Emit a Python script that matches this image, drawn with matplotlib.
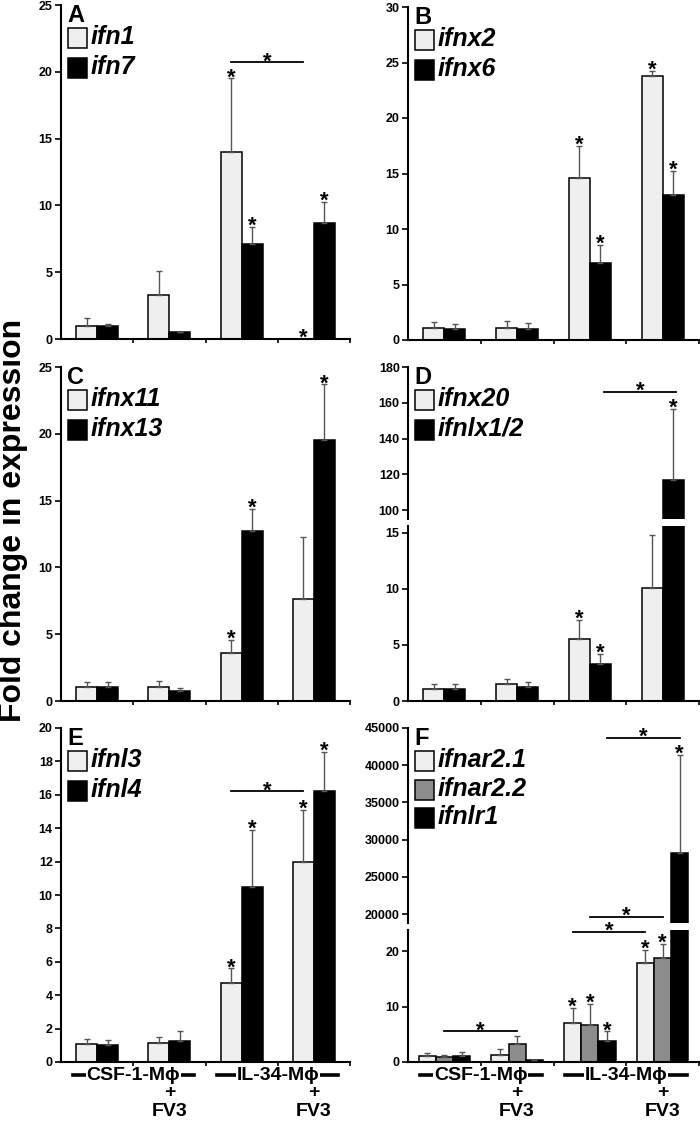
import matplotlib

matplotlib.use("Agg")
import matplotlib.pyplot as plt
from matplotlib.lines import Line2D
from matplotlib.patches import Rectangle
from matplotlib.transforms import blended_transform_factory

plt.rcParams["font.family"] = ["Liberation Sans", "DejaVu Sans"]
plt.rcParams["font.weight"] = "bold"

W, H = 700, 1121

# ---- data (fold change, mean and upper SEM) ------------------------------
groups = ["CSF-1-Mϕ", "CSF-1-Mϕ + FV3", "IL-34-Mϕ", "IL-34-Mϕ + FV3"]

# A
ifn1 = [1.0, 3.3, 14.0, 0.0]
ifn1_err = [0.55, 1.8, 5.5, 0.0]
ifn7 = [1.0, 0.5, 7.1, 8.7]
ifn7_err = [0.1, 0.05, 1.3, 1.55]
stars_a = [(0, 2), (0, 3), (1, 2), (1, 3)]

# B
ifnx2 = [1.05, 1.1, 14.6, 23.8]
ifnx2_err = [0.55, 0.6, 2.9, 0.45]
ifnx6 = [1.0, 0.95, 6.9, 13.1]
ifnx6_err = [0.4, 0.55, 1.7, 2.1]
stars_b = [(0, 2), (0, 3), (1, 2), (1, 3)]

# C
ifnx11 = [1.05, 1.05, 3.6, 7.6]
ifnx11_err = [0.4, 0.45, 1.0, 4.7]
ifnx13 = [1.05, 0.75, 12.7, 19.5]
ifnx13_err = [0.35, 0.2, 1.7, 4.2]
stars_c = [(0, 2), (1, 2), (1, 3)]

# D
ifnx20 = [1.05, 1.5, 5.5, 10.1]
ifnx20_err = [0.45, 0.45, 1.7, 4.7]
ifnlx12 = [1.05, 1.25, 3.3, 116.7]
ifnlx12_err = [0.45, 0.45, 0.9, 40.0]
stars_d = [(0, 2), (1, 2), (1, 3)]

# E
ifnl3 = [1.05, 1.15, 4.75, 12.0]
ifnl3_err = [0.35, 0.35, 0.85, 3.1]
ifnl4 = [1.0, 1.25, 10.5, 16.2]
ifnl4_err = [0.3, 0.6, 3.4, 2.35]
stars_e = [(0, 2), (0, 3), (1, 2), (1, 3)]

# F
ifnar21 = [1.0, 1.35, 7.1, 17.9]
ifnar21_err = [0.6, 1.0, 2.6, 2.3]
ifnar22 = [0.9, 3.2, 6.6, 18.8]
ifnar22_err = [0.3, 1.5, 3.9, 2.5]
ifnlr1 = [1.0, 0.4, 3.7, 28200]
ifnlr1_err = [0.8, 0.05, 1.8, 13200]
stars_f = [(0, 2), (0, 3), (1, 2), (1, 3), (2, 2), (2, 3)]

LIGHT, MID, DARK = "#efefef", "#8c8c8c", "#000000"

fig = plt.figure(figsize=(W / 100, H / 100), dpi=100)


def px_axes(left, top, right, bottom):
    return fig.add_axes([left / W, 1 - bottom / H,
                         (right - left) / W, (bottom - top) / H])


def style_axis(ax, ylim, yticks, bottom=True):
    ax.set_xlim(-0.5, 3.5)
    ax.set_ylim(*ylim)
    ax.set_yticks(yticks)
    ax.set_yticklabels([str(v) for v in yticks], fontsize=9,
                       fontweight="bold")
    for s in ("top", "right"):
        ax.spines[s].set_visible(False)
    ax.spines["left"].set_linewidth(1.5)
    if bottom:
        ax.spines["bottom"].set_linewidth(1.5)
        ax.set_xticks([0.5, 1.5, 2.5, 3.5])
        ax.tick_params(axis="x", length=3, width=1.2, labelbottom=False)
    else:
        ax.spines["bottom"].set_visible(False)
        ax.set_xticks([])
    ax.tick_params(axis="y", length=4, width=1.2, pad=2)
    ax.patch.set_alpha(0)


def star(ax, x, y):
    ax.annotate("*", (x, y), xytext=(0, -3.5), textcoords="offset points",
                ha="center", va="baseline", fontsize=16, fontweight="bold",
                annotation_clip=False)


def draw_bars(axes, series, errors, colors, width, stars):
    n = len(series)
    offsets = [(k - (n - 1) / 2) * width for k in range(n)]
    for k, (vals, errs, col) in enumerate(zip(series, errors, colors)):
        xs = [i + offsets[k] for i in range(len(vals))]
        for ax in axes:
            ax.bar(xs, vals, width, color=col, edgecolor="black",
                   linewidth=1.1, zorder=2)
        for i, (x, v, e) in enumerate(zip(xs, vals, errs)):
            top = v + e
            ax = axes[-1]
            if len(axes) > 1 and top > axes[-1].get_ylim()[1]:
                ax = axes[0]
            if e > 0:
                ax.errorbar([x], [v], yerr=[[0], [e]], fmt="none",
                            ecolor="#555555", elinewidth=1, capsize=2,
                            capthick=1, zorder=3)
            if (k, i) in stars:
                star(ax, x, top)


def bracket(ax, x0, x1, y):
    ax.plot([x0, x1], [y, y], color="black", lw=1.3, clip_on=False,
            zorder=4)
    star(ax, (x0 + x1) / 2, y)


def draw_legend(letter, left, top, labels, colors, step=30):
    fig.text((left + 6) / W, 1 - (top - 1) / H, letter, fontsize=17,
             fontweight="bold", va="top", ha="left")
    for j, (lab, col) in enumerate(zip(labels, colors)):
        cy = top + 33 + step * j
        fig.add_artist(Rectangle(((left + 7) / W, 1 - (cy + 10) / H),
                                 19 / W, 20 / H, transform=fig.transFigure,
                                 facecolor=col, edgecolor="black", lw=1.1))
        fig.text((left + 30) / W, 1 - (cy - 1) / H, lab, fontsize=18,
                 fontweight="bold", fontstyle="italic", va="center",
                 ha="left")


def draw_groups(ax):
    tr = blended_transform_factory(ax.transData, fig.transFigure)
    ytxt = 1 - 1075 / H
    for center, name, plus_x in [(0.5, "CSF-1-Mϕ", 1), (2.5, "IL-34-Mϕ", 3)]:
        ax.add_line(Line2D([center - 0.84, center + 0.84], [ytxt, ytxt],
                           transform=tr, color="black", lw=2.6,
                           clip_on=False, zorder=5))
        ax.text(center, ytxt, name, transform=tr, ha="center",
                va="center", fontsize=14, fontweight="bold", zorder=6,
                bbox=dict(facecolor="white", edgecolor="none", pad=0.6))
        ax.text(plus_x, 1 - 1093 / H, "+", transform=tr, ha="center",
                va="center", fontsize=14, fontweight="bold")
        ax.text(plus_x, 1 - 1111 / H, "FV3", transform=tr, ha="center",
                va="center", fontsize=14, fontweight="bold")


# ---- A -------------------------------------------------------------------
ax_a = px_axes(61, 5, 350, 339)
style_axis(ax_a, (0, 25), [0, 5, 10, 15, 20, 25])
draw_bars([ax_a], [ifn1, ifn7], [ifn1_err, ifn7_err], [LIGHT, DARK], 0.29,
          stars_a)
bracket(ax_a, 1.855, 2.855, 20.7)
draw_legend("A", 61, 5, ["ifn1", "ifn7"], [LIGHT, DARK])

# ---- B -------------------------------------------------------------------
ax_b = px_axes(408, 7, 699, 340)
style_axis(ax_b, (0, 30), [0, 5, 10, 15, 20, 25, 30])
draw_bars([ax_b], [ifnx2, ifnx6], [ifnx2_err, ifnx6_err], [LIGHT, DARK],
          0.29, stars_b)
draw_legend("B", 408, 7, ["ifnx2", "ifnx6"], [LIGHT, DARK])

# ---- C -------------------------------------------------------------------
ax_c = px_axes(61, 367, 350, 701)
style_axis(ax_c, (0, 25), [0, 5, 10, 15, 20, 25])
draw_bars([ax_c], [ifnx11, ifnx13], [ifnx11_err, ifnx13_err],
          [LIGHT, DARK], 0.29, stars_c)
draw_legend("C", 61, 367, ["ifnx11", "ifnx13"], [LIGHT, DARK])

# ---- D (broken axis) -----------------------------------------------------
ax_d_hi = px_axes(408, 367, 699, 519)
ax_d_lo = px_axes(408, 526, 699, 701)
style_axis(ax_d_hi, (95, 180), [100, 120, 140, 160, 180], bottom=False)
style_axis(ax_d_lo, (0, 15.6), [0, 5, 10, 15])
draw_bars([ax_d_hi, ax_d_lo], [ifnx20, ifnlx12], [ifnx20_err, ifnlx12_err],
          [LIGHT, DARK], 0.29, stars_d)
bracket(ax_d_hi, 2.2, 3.18, 166)
draw_legend("D", 408, 367, ["ifnx20", "ifnlx1/2"], [LIGHT, DARK])

# ---- E -------------------------------------------------------------------
ax_e = px_axes(61, 728, 350, 1062)
style_axis(ax_e, (0, 20), list(range(0, 21, 2)))
draw_bars([ax_e], [ifnl3, ifnl4], [ifnl3_err, ifnl4_err], [LIGHT, DARK],
          0.29, stars_e)
bracket(ax_e, 1.855, 2.855, 16.2)
draw_legend("E", 61, 728, ["ifnl3", "ifnl4"], [LIGHT, DARK])
draw_groups(ax_e)

# ---- F (broken axis) -----------------------------------------------------
ax_f_hi = px_axes(408, 728, 699, 923)
ax_f_lo = px_axes(408, 930, 699, 1062)
style_axis(ax_f_hi, (18800, 45000), list(range(20000, 45001, 5000)),
           bottom=False)
style_axis(ax_f_lo, (0, 23.8), [0, 10, 20])
draw_bars([ax_f_hi, ax_f_lo], [ifnar21, ifnar22, ifnlr1],
          [ifnar21_err, ifnar22_err, ifnlr1_err], [LIGHT, MID, DARK], 0.236,
          stars_f)
bracket(ax_f_lo, 0.0, 1.0, 5.5)
bracket(ax_f_lo, 1.764, 2.764, 23.4)
bracket(ax_f_lo, 2.0, 3.0, 26.1)
bracket(ax_f_hi, 2.236, 3.236, 43650)
draw_legend("F", 408, 728, ["ifnar2.1", "ifnar2.2", "ifnlr1"],
            [LIGHT, MID, DARK], step=28.5)
draw_groups(ax_f_lo)

fig.text(13 / W, 1 - 520 / H, "Fold change in expression", rotation=90,
         fontsize=23, fontweight="bold", va="center", ha="center")

fig.savefig("out.png", dpi=100)
